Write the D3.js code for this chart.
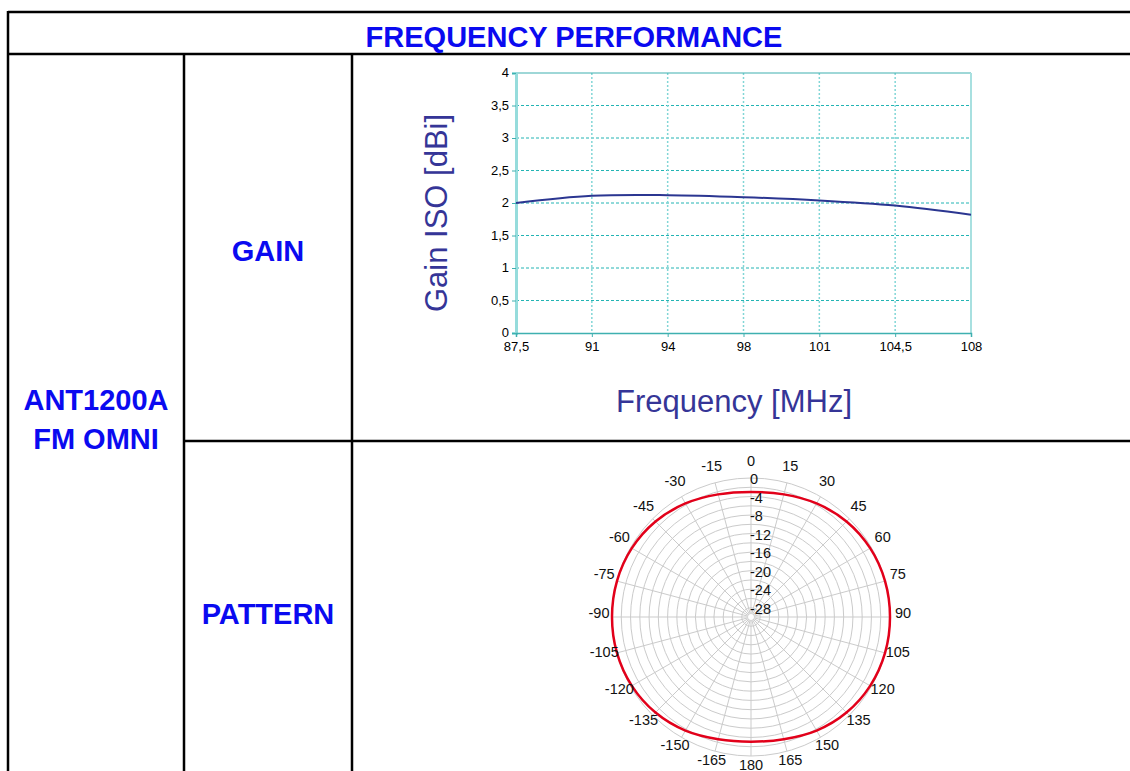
<!DOCTYPE html>
<html><head><meta charset="utf-8">
<script src="https://cdn.jsdelivr.net/npm/d3@7"></script>
<style>
body{margin:0;background:#fff;}
svg{display:block;font-family:"Liberation Sans",Arial,sans-serif;}
</style></head>
<body><svg id="c" width="1130" height="771"></svg>
<script>
// ---- data ----
const freqLabels = ["87,5","91","94","98","101","104,5","108"];
const gainValues = [2.00, 2.11, 2.12, 2.09, 2.04, 1.96, 1.82];
const gainTicks = [0,0.5,1,1.5,2,2.5,3,3.5,4];
const patternAngles = [0,15,30,45,60,75,90,105,120,135,150,165,180,-165,-150,-135,-120,-105,-90,-75,-60,-45,-30,-15];
const patternValues = [-3.0,-2.6,-1.7,-0.85,-0.3,-0.05,0,-0.05,-0.3,-0.85,-1.7,-2.7,-3.1,-2.7,-1.7,-0.85,-0.3,-0.05,0,-0.05,-0.3,-0.85,-1.7,-2.6];
const angleLabels = [0,15,30,45,60,75,90,105,120,135,150,165,180,-165,-150,-135,-120,-105,-90,-75,-60,-45,-30,-15];
const radialTicks = [0,-4,-8,-12,-16,-20,-24,-28];
const radialGrid = [0,-2,-4,-6,-8,-10,-12,-14,-16,-18,-20,-22,-24,-26,-28];

const svg = d3.select("#c");
const blue = "#0a0af0";

// ---- table ----
const tbl = svg.append("g").attr("stroke","#000").attr("stroke-width",2.5);
tbl.append("line").attr("x1",8).attr("y1",12).attr("x2",1130).attr("y2",12);
tbl.append("line").attr("x1",8).attr("y1",54).attr("x2",1130).attr("y2",54);
tbl.append("line").attr("x1",8).attr("y1",11).attr("x2",8).attr("y2",771);
tbl.append("line").attr("x1",184).attr("y1",54).attr("x2",184).attr("y2",771);
tbl.append("line").attr("x1",352).attr("y1",54).attr("x2",352).attr("y2",771);
tbl.append("line").attr("x1",184).attr("y1",441).attr("x2",1130).attr("y2",441);

const hdr = svg.append("g").attr("fill",blue).attr("font-weight","bold").attr("font-size",29).attr("text-anchor","middle");
hdr.append("text").attr("x",574).attr("y",47).text("FREQUENCY PERFORMANCE");
hdr.append("text").attr("x",268).attr("y",261).text("GAIN");
hdr.append("text").attr("x",268).attr("y",624).text("PATTERN");
hdr.append("text").attr("x",96).attr("y",410).text("ANT1200A");
hdr.append("text").attr("x",96).attr("y",449).text("FM OMNI");

// ---- gain chart ----
const x = d3.scalePoint().domain(freqLabels).range([516, 971]);
const y = d3.scaleLinear().domain([0,4]).range([333, 73]);
const g = svg.append("g");

// horizontal grid
g.selectAll(".hg").data(gainTicks.filter(d=>d>0 && d<4)).join("line")
  .attr("x1",516).attr("x2",971).attr("y1",d=>y(d)).attr("y2",d=>y(d))
  .attr("stroke","#22b4b4").attr("stroke-width",1).attr("stroke-dasharray","3,2");
// vertical grid
g.selectAll(".vg").data(freqLabels.slice(1,-1)).join("line")
  .attr("x1",d=>x(d)).attr("x2",d=>x(d)).attr("y1",73).attr("y2",333)
  .attr("stroke","#82d6d6").attr("stroke-width",1.5).attr("stroke-dasharray","2,2");
// frame
g.append("line").attr("x1",516).attr("x2",971).attr("y1",73).attr("y2",73).attr("stroke","#3fb0b0").attr("stroke-width",1.2);
g.append("line").attr("x1",971).attr("x2",971).attr("y1",73).attr("y2",333).attr("stroke","#a8e0e0").attr("stroke-width",2);

// axes
const yAxis = d3.axisLeft(y).tickValues(gainTicks).tickSize(4).tickPadding(3)
  .tickFormat(d=>String(d).replace(".",","));
const ya = g.append("g").attr("transform","translate(516,0)").call(yAxis);
ya.select(".domain").attr("stroke","#96dcdc").attr("stroke-width",3);
ya.selectAll(".tick line").attr("stroke","#3fb0b0");
ya.selectAll("text").style("font-size","13px").attr("fill","#000").attr("dy","0.3em").style("font-family","Liberation Sans, Arial, sans-serif");

const xAxis = d3.axisBottom(x).tickSize(4).tickPadding(5);
const xa = g.append("g").attr("transform","translate(0,333)").call(xAxis);
xa.select(".domain").attr("stroke","#3fb0b0").attr("stroke-width",1.5);
xa.selectAll(".tick line").attr("stroke","#3fb0b0");
xa.selectAll("text").style("font-size","13px").attr("fill","#000").style("font-family","Liberation Sans, Arial, sans-serif");

// curve
const line = d3.line().x((d,i)=>x(freqLabels[i])).y(d=>y(d)).curve(d3.curveCatmullRom);
g.append("path").datum(gainValues).attr("d",line).attr("fill","none")
  .attr("stroke","#2b3691").attr("stroke-width",2);

// axis titles
g.append("text").attr("x",734).attr("y",412).attr("text-anchor","middle")
  .attr("font-size",31).attr("fill","#353597").text("Frequency [MHz]");
g.append("text").attr("transform","translate(447,213) rotate(-90)").attr("text-anchor","middle")
  .attr("font-size",31).attr("fill","#353597").text("Gain ISO [dBi]");

// ---- polar pattern ----
const cx = 751, cy = 617, R = 139;
const r = d3.scaleLinear().domain([-30,0]).range([0,R]);
const p = svg.append("g").attr("transform",`translate(${cx},${cy})`);

p.selectAll(".rc").data(radialGrid).join("circle")
  .attr("r",d=>r(d)).attr("fill","none").attr("stroke","#cbcbcb").attr("stroke-width",1);
p.selectAll(".sp").data(angleLabels).join("line")
  .attr("x1",d=>3*Math.sin(d*Math.PI/180)).attr("y1",d=>-3*Math.cos(d*Math.PI/180))
  .attr("x2",d=>R*Math.sin(d*Math.PI/180)).attr("y2",d=>-R*Math.cos(d*Math.PI/180))
  .attr("stroke","#cbcbcb").attr("stroke-width",1);

const radial = d3.lineRadial().angle((d,i)=>patternAngles[i]*Math.PI/180).radius(d=>r(d))
  .curve(d3.curveCatmullRomClosed);
p.append("path").datum(patternValues).attr("d",radial).attr("fill","none")
  .attr("stroke","#e2001a").attr("stroke-width",2.5);

p.selectAll(".al").data(angleLabels).join("text")
  .attr("x",d=>152*Math.sin(d*Math.PI/180))
  .attr("y",d=>-4-152*Math.cos(d*Math.PI/180))
  .attr("text-anchor","middle").attr("dominant-baseline","central")
  .attr("font-size",14.5).attr("fill","#111").text(d=>d);

p.selectAll(".rl").data(radialTicks).join("text")
  .attr("x",-1).attr("y",d=>-r(d)+1).attr("dominant-baseline","central")
  .attr("font-size",14.5).attr("fill","#111").text(d=>d);
</script>
</body></html>
